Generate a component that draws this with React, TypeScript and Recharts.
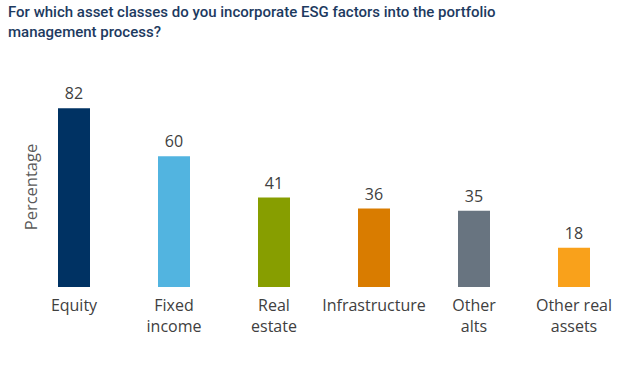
import React from 'react';
import { BarChart, Bar, XAxis, YAxis, Cell, LabelList } from 'recharts';

const categories = ['Equity', 'Fixed income', 'Real estate', 'Infrastructure', 'Other alts', 'Other real assets'];
const tickLines = [['Equity'], ['Fixed', 'income'], ['Real', 'estate'], ['Infrastructure'], ['Other', 'alts'], ['Other real', 'assets']];
const values = [82, 60, 41, 36, 35, 18];
const colors = ['#003263', '#52b4e0', '#879e00', '#d97c00', '#687480', '#f9a11b'];

const data = categories.map((c, i) => ({ name: c, value: values[i], idx: i }));

const Tick = (props: any) => {
  const { x, y, payload } = props;
  const lines = tickLines[payload.index] || [payload.value];
  return (
    <text x={x} y={y} textAnchor="middle" fill="#404040" fontSize={16} fontFamily="'Open Sans', sans-serif">
      {lines.map((l: string, i: number) => (
        <tspan key={i} x={x} dy={i === 0 ? 18 : 21}>{l}</tspan>
      ))}
    </text>
  );
};

export default function App() {
  return (
    <div style={{ position: 'absolute', left: 0, top: 0, width: 624, height: 365, background: '#fff' }}>
      <div style={{ position: 'absolute', left: 8, top: 2, fontFamily: 'Roboto, sans-serif', fontSize: 15, fontWeight: 500, color: '#1d3a5f', lineHeight: '20px', width: 600 }}>
        For which asset classes do you incorporate ESG factors into the portfolio<br />management process?
      </div>
      <div style={{ position: 'absolute', left: 30, top: 187, transform: 'translate(-50%, -50%) rotate(-90deg)', fontFamily: "'Open Sans', sans-serif", fontSize: 16.5, color: '#595959', whiteSpace: 'nowrap' }}>
        Percentage
      </div>
      <BarChart width={624} height={365} data={data} margin={{ top: 69, right: 0, bottom: 0, left: 24 }} barSize={32}>
        <YAxis hide domain={[0, 100]} />
        <XAxis dataKey="name" axisLine={false} tickLine={false} interval={0} tick={<Tick />} tickMargin={0} height={78} />
        <Bar dataKey="value" isAnimationActive={false}>
          {data.map((d, i) => (
            <Cell key={i} fill={colors[i]} />
          ))}
          <LabelList dataKey="value" position="top" offset={9} fill="#404040" fontSize={16} fontFamily="'Open Sans', sans-serif" />
        </Bar>
      </BarChart>
    </div>
  );
}
